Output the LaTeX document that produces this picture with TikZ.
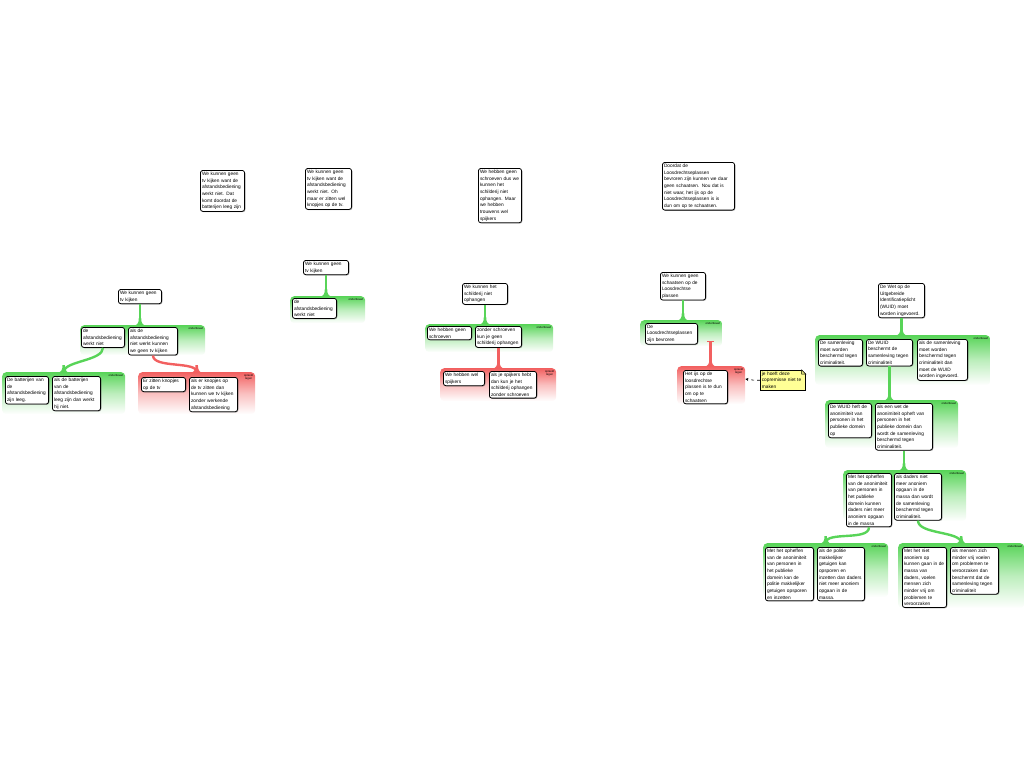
\documentclass[tikz,border=0pt]{standalone}
\usepackage{fontspec}
\setmainfont{Liberation Sans}
\usetikzlibrary{calc,shadows,arrows.meta}

\definecolor{progreen}{RGB}{88,212,88}
\definecolor{conred}{RGB}{242,96,96}
\definecolor{noteyellow}{RGB}{255,255,150}
\definecolor{notefold}{RGB}{225,225,120}

\tikzset{
    claim/.style={draw, line width=0.8bp, rounded corners=2.5bp, fill=white,
        anchor=north west, align=left, inner sep=1.6bp, text width=#1,
        font=\fontsize{4.8}{6.7}\selectfont,
        drop shadow={shadow xshift=0.8bp, shadow yshift=-0.8bp, fill=black!55}},
    claim/.default=40bp,
    grp/.style={anchor=north west, inner sep=0pt, rounded corners=4bp, minimum width=#1},
    pro/.style={grp=#1, top color=progreen, bottom color=white, middle color=progreen!40},
    con/.style={grp=#1, top color=conred, bottom color=white, middle color=conred!40},
    tag/.style={anchor=north east, inner sep=2bp, align=center, font=\fontsize{2.8}{3.2}\selectfont},
    proline/.style={draw=progreen, line width=2.4bp},
    conline/.style={draw=conred, line width=2.4bp},
    note/.style={fill=noteyellow, draw, line width=0.5bp, anchor=north west, align=left,
        inner sep=1.6bp, text width=#1, font=\fontsize{4.8}{6.7}\selectfont},
    flare/.pic={\fill (-6,0.6) .. controls (-2.2,0.2) and (-1.2,-2.5) .. (-1.2,-7)
        -- (1.2,-7) .. controls (1.2,-2.5) and (2.2,0.2) .. (6,0.6) -- cycle;}
}

\begin{document}
\begin{tikzpicture}[x=1bp, y=-1bp]
    \useasboundingbox (0,0) rectangle (1024,768);

    % losse redeneringen
    \node[claim=41bp] (a1) at (200,170) {We kunnen geen\\tv kijken want de\\afstandsbediening\\werkt niet. Dat\\komt doordat de\\batterijen leeg zijn};
    \node[claim=43bp] (a2) at (305,168) {We kunnen geen\\tv kijken want de\\afstandsbediening\\werkt niet. Oh\\maar er zitten wel\\knopjes op de tv.};
    \node[claim=40bp] (a3) at (478,168) {We hebben geen\\schroeven dus we\\kunnen het\\schilderij niet\\ophangen. Maar\\we hebben\\trouwens wel\\spijkers};
    \node[claim=69bp] (a4) at (662,162) {Doordat de\\Loosdrechtseplassen\\bevroren zijn kunnen we daar\\geen schaatsen. Nou dat is\\niet waar, het ijs op de\\Loosdrechtseplassen is is\\dun om op te schaatsen.};

    % tv kijken
    \node[pro={125bp}, minimum height=30bp] (g1) at (80,325) {};
    \node[tag] at (g1.north east) {onderbouwt};
    \node[pro={123bp}, minimum height=42bp] (g1b) at (2,372) {};
    \node[tag] at (g1b.north east) {onderbouwt};
    \node[con={117bp}, minimum height=42bp] (g1c) at (138,372) {};
    \node[tag] at (g1c.north east) {spreekt\\tegen};
    \node[claim=40bp] (r1) at (118,289) {We kunnen geen\\tv kijken};
    \node[claim=40bp] (b1a) at (81,327) {de\\afstandsbediening\\werkt niet};
    \node[claim=46bp] (b1b) at (128,327) {als de\\afstandsbediening\\niet werkt kunnen\\we geen tv kijken};
    \node[claim=40bp] (c1a) at (5,376) {De batterijen van\\de\\afstandsbediening\\zijn leeg.};
    \node[claim=45bp] (c1b) at (52,376) {als de batterijen\\van de\\afstandsbediening\\leeg zijn dan werkt\\hij niet.};
    \node[claim=41bp] (d1a) at (141,377) {Er zitten knopjes\\op de tv};
    \node[claim=45bp] (d1b) at (189,377) {als er knopjes op\\de tv zitten dan\\kunnen we tv kijken\\zonder werkende\\afstandsbediening};
    \draw[proline] (r1.south) -- (r1.south |- g1.north);
    \pic[color=progreen] at (r1.south |- g1.north) {flare};
    \draw[proline] (b1a.south) .. controls +(0,13) and +(0,-11) .. (g1b.north);
    \pic[color=progreen] at (g1b.north) {flare};
    \draw[conline] (b1b.south) .. controls +(0,13) and +(0,-11) .. (g1c.north);
    \pic[color=conred] at (g1c.north) {flare};

    % tv kijken, kort
    \node[pro={75bp}, minimum height=27bp] (g2) at (290,296) {};
    \node[tag] at (g2.north east) {onderbouwt};
    \node[claim=42bp] (r2) at (303,260) {We kunnen geen\\tv kijken};
    \node[claim=41bp] (b2) at (292,298) {de\\afstandsbediening\\werkt niet};
    \draw[proline] (r2.south) -- (r2.south |- g2.north);
    \pic[color=progreen] at (r2.south |- g2.north) {flare};

    % schilderij
    \node[pro={128bp}, minimum height=28bp] (g3) at (425,324) {};
    \node[tag] at (g3.north east) {onderbouwt};
    \node[con={116bp}, minimum height=33bp] (g3b) at (440,368) {};
    \node[tag] at (g3b.north east) {spreekt\\tegen};
    \node[claim=42bp] (r3) at (462,283) {We kunnen het\\schilderij niet\\ophangen};
    \node[claim=41bp] (b3a) at (427,326) {We hebben geen\\schroeven};
    \node[claim=43bp] (b3b) at (475,326) {zonder schroeven\\kun je geen\\schilderij ophangen};
    \node[claim=38bp] (d3a) at (443,371) {We hebben wel\\spijkers};
    \node[claim=44bp] (d3b) at (489,371) {als je spijkers hebt\\dan kun je het\\schilderij ophangen\\zonder schroeven};
    \draw[proline] (r3.south) -- (r3.south |- g3.north);
    \pic[color=progreen] at (r3.south |- g3.north) {flare};
    \draw[conline] (b3b.south) -- (b3b.south |- g3b.north);
    \pic[color=conred] at (b3b.south |- g3b.north) {flare};

    % schaatsen
    \node[pro={82bp}, minimum height=26bp] (g4) at (640,320) {};
    \node[tag] at (g4.north east) {onderbouwt};
    \node[con={68bp}, minimum height=38bp] (g4b) at (677,366) {};
    \node[tag] at (g4b.north east) {spreekt\\tegen};
    \node[claim=42bp] (r4) at (660,272) {We kunnen geen\\schaatsen op de\\Loosdrechtse\\plassen};
    \node[claim=49bp] (b4) at (645,323) {De\\Loosdrechtseplassen\\zijn bevroren};
    \node[claim=41bp] (d4) at (683,370) {Het ijs op de\\loosdrechtse\\plassen is te dun\\om op te\\schaatsen};
    \coordinate (t4) at (710.5,341);
    \draw[proline] (r4.south) -- (r4.south |- g4.north);
    \pic[color=progreen] at (r4.south |- g4.north) {flare};
    \draw[conline, {Bar[width=7bp,line width=1.2bp]}-] (t4) -- (t4 |- g4b.north);
    \pic[color=conred] at (t4 |- g4b.north) {flare};
    \node[note=42bp] (n4) at (760,370) {je hoeft deze\\copremisse niet te\\maken};
    \fill[white] ($(n4.north east)+(-4.4,-0.6)$) -- ($(n4.north east)+(0.6,-0.6)$) -- ($(n4.north east)+(0.6,4.4)$) -- cycle;
    \filldraw[fill=notefold, line width=0.5bp] ($(n4.north east)+(-4,0)$) -- ($(n4.north east)+(-4,4)$) -- ($(n4.north east)+(0,4)$) -- cycle;
    \draw[line width=0.6bp, dashed, -{Stealth[length=3bp,width=3bp]}] (n4.west) .. controls +(-6,0) and +(6,1) .. (g4b.east |- 0,379);

    % WUID
    \node[pro={175bp}, minimum height=50bp] (g5) at (815,335) {};
    \node[tag] at (g5.north east) {onderbouwt};
    \node[pro={133bp}, minimum height=48bp] (g5b) at (825,400) {};
    \node[tag] at (g5b.north east) {onderbouwt};
    \node[pro={123bp}, minimum height=51bp] (g5c) at (843,470) {};
    \node[tag] at (g5c.north east) {onderbouwt};
    \node[pro={125bp}, minimum height=54bp] (g5d) at (763,543) {};
    \node[tag] at (g5d.north east) {onderbouwt};
    \node[pro={126bp}, minimum height=65bp] (g5e) at (898,543) {};
    \node[tag] at (g5e.north east) {onderbouwt};
    \node[claim=43bp] (r5) at (878,283) {De Wet op de\\Uitgebreide\\Identificatieplicht\\(WUID) moet\\worden ingevoerd.};
    \node[claim=41bp] (b5a) at (818,339) {De samenleving\\moet worden\\beschermd tegen\\criminaliteit.};
    \node[claim=43bp] (b5b) at (866,339) {De WUID\\beschermt de\\samenleving tegen\\criminaliteit};
    \node[claim=47bp] (b5c) at (917,339) {als de samenleving\\moet worden\\beschermd tegen\\criminaliteit dan\\moet de WUID\\worden ingevoerd.};
    \node[claim=40bp] (c5a) at (828,403) {De WUID heft de\\anonimiteit van\\personen in het\\publieke domein\\op};
    \node[claim=54bp] (c5b) at (875,403) {als een wet de\\anonimiteit opheft van\\personen in het\\publieke domein dan\\wordt de samenleving\\beschermd tegen\\criminaliteit.};
    \node[claim=42bp] (e5a) at (846,473) {Met het opheffen\\van de anonimiteit\\van personen in\\het publieke\\domein kunnen\\daders niet meer\\anoniem opgaan\\in de massa};
    \node[claim=44bp] (e5b) at (894,473) {als daders niet\\meer anoniem\\opgaan in de\\massa dan wordt\\de samenleving\\beschermd tegen\\criminaliteit.};
    \node[claim=45bp] (f5a) at (765,547) {Met het opheffen\\van de anonimiteit\\van personen in\\het publieke\\domein kan de\\politie makkelijker\\getuigen opsporen\\en inzetten};
    \node[claim=44bp] (f5b) at (817,547) {als de politie\\makkelijker\\getuigen kan\\opsporen en\\inzetten dan daders\\niet meer anoniem\\opgaan in de\\massa.};
    \node[claim=41bp] (h5a) at (902,547) {Met het niet\\anoniem op\\kunnen gaan in de\\massa van\\daders, voelen\\mensen zich\\minder vrij om\\problemen te\\veroorzaken};
    \node[claim=45bp] (h5b) at (950,547) {als mensen zich\\minder vrij voelen\\om problemen te\\veroorzaken dan\\beschermt dat de\\samenleving tegen\\criminaliteit};
    \draw[proline] (r5.south) -- (r5.south |- g5.north);
    \pic[color=progreen] at (r5.south |- g5.north) {flare};
    \draw[proline] (b5b.south) -- (b5b.south |- g5b.north);
    \pic[color=progreen] at (b5b.south |- g5b.north) {flare};
    \draw[proline] (c5b.south) -- (c5b.south |- g5c.north);
    \pic[color=progreen] at (c5b.south |- g5c.north) {flare};
    \draw[proline] (e5a.south) .. controls +(0,14) and +(0,-12) .. (g5d.north);
    \pic[color=progreen] at (g5d.north) {flare};
    \draw[proline] (e5b.south) .. controls +(0,14) and +(0,-12) .. (g5e.north);
    \pic[color=progreen] at (g5e.north) {flare};
\end{tikzpicture}
\end{document}
